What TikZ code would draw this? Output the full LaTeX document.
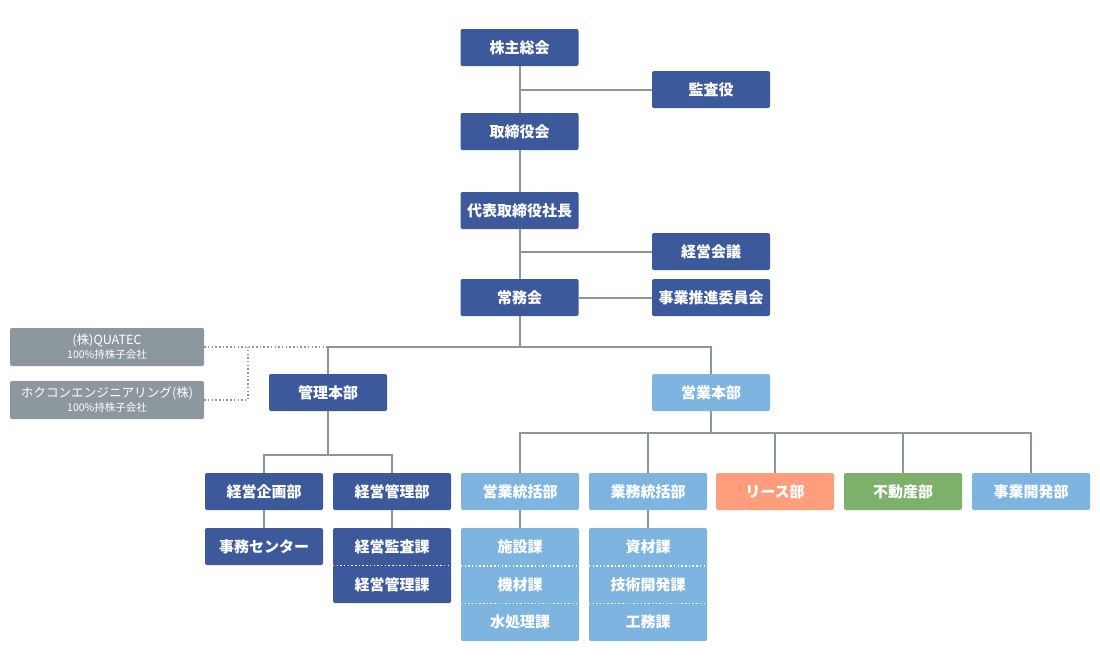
\documentclass[tikz,border=0pt]{standalone}
\usepackage{fontspec}
\newfontfamily\cjk{Noto Sans CJK JP}
\definecolor{dblue}{RGB}{60,90,155}
\definecolor{lblue}{RGB}{126,180,224}
\definecolor{salmon}{RGB}{255,158,125}
\definecolor{lgreen}{RGB}{125,176,106}
\definecolor{gbox}{RGB}{140,152,157}
\definecolor{gline}{RGB}{139,151,156}
\tikzset{
  box/.style={rounded corners=2pt,minimum width=118pt,minimum height=37pt,inner sep=0pt,
    text=white,font=\cjk\bfseries\fontsize{15}{16}\selectfont},
  dbox/.style={box,fill=dblue},
  lbox/.style={box,fill=lblue},
  sub/.style={box,rounded corners=0pt,minimum height=37.5pt},
  subbox/.style={box,minimum width=194pt,minimum height=38pt,fill=gbox,
    align=center,font=\cjk\fontsize{12.6}{15}\selectfont},
  conn/.style={gline,line width=2pt},
  dotline/.style={gline,line width=1.5pt,dash pattern=on 1.5pt off 2.2pt},
  sep/.style={white,line width=1.5pt,dash pattern=on 1.5pt off 2.2pt}
}
\begin{document}
\begin{tikzpicture}[x=1pt,y=-1pt]
\useasboundingbox (0,0) rectangle (1100,670);
% top
\node[dbox] (soukai) at (519.5,47.5) {株主総会};
\node[dbox] (kansa) at (711,89.5) {監査役};
\node[dbox] (torishimari) at (519.5,131.5) {取締役会};
\node[dbox] (shacho) at (519.5,210.5) {代表取締役社長};
\node[dbox] (kaigi) at (711,251.5) {経営会議};
\node[dbox] (joumu) at (519.5,297.5) {常務会};
\node[dbox] (suishin) at (711,297.5) {事業推進委員会};
% subsidiaries
\node[subbox] (quatec) at (107,347) {(株)QUATEC\\[-1pt]{\fontsize{10.5}{12}\selectfont 100\%持株子会社}};
\node[subbox] (hokukon) at (107,400) {ホクコンエンジニアリング(株)\\[-1pt]{\fontsize{10.5}{12}\selectfont 100\%持株子会社}};
% headquarters
\node[dbox] (kanri) at (328,392.5) {管理本部};
\node[lbox] (eigyo) at (711,392.5) {営業本部};
% departments
\node[dbox] (kikaku) at (264,491.5) {経営企画部};
\node[dbox] (keieikanri) at (392,491.5) {経営管理部};
\node[lbox] (tokatsu) at (520,491.5) {営業統括部};
\node[lbox] (gyomu) at (648,491.5) {業務統括部};
\node[box,fill=salmon] (lease) at (775,491.5) {リース部};
\node[box,fill=lgreen] (fudosan) at (903,491.5) {不動産部};
\node[lbox] (jigyo) at (1031,491.5) {事業開発部};
% sections
\node[dbox] (jimu) at (264,546.5) {事務センター};
\fill[dblue,rounded corners=2pt] (333,528) rectangle (451,603);
\node[sub] (kansaka) at (392,546.75) {経営監査課};
\node[sub] (kanrika) at (392,584.25) {経営管理課};
\draw[sep] (kansaka.south west) -- (kansaka.south east);
\fill[lblue,rounded corners=2pt] (461,528) rectangle (579,641);
\node[sub] (shisetsu) at (520,546.8) {施設課};
\node[sub] (kizai) at (520,584.5) {機材課};
\node[sub] (mizu) at (520,622.2) {水処理課};
\draw[sep] (shisetsu.south west) -- (shisetsu.south east);
\draw[sep] (kizai.south west) -- (kizai.south east);
\fill[lblue,rounded corners=2pt] (589,528) rectangle (707,641);
\node[sub] (shizai) at (648,546.8) {資材課};
\node[sub] (gijutsu) at (648,584.5) {技術開発課};
\node[sub] (koumu) at (648,622.2) {工務課};
\draw[sep] (shizai.south west) -- (shizai.south east);
\draw[sep] (gijutsu.south west) -- (gijutsu.south east);
% connectors
\coordinate (jbus) at (519.5,347);
\coordinate (dj) at (248,347);
\coordinate (kbus) at (328,455);
\coordinate (ebus) at (711,433);
\draw[conn] (soukai) -- (torishimari);
\draw[conn] (kansa) -- (kansa -| soukai);
\draw[conn] (torishimari) -- (shacho);
\draw[conn] (shacho) -- (joumu);
\draw[conn] (kaigi) -- (kaigi -| shacho);
\draw[conn] (joumu) -- (suishin);
\draw[conn] (joumu) -- (jbus);
\draw[conn] (kanri.north) |- (jbus) -| (eigyo.north);
\draw[dotline] (quatec) -- (quatec -| kanri);
\draw[dotline] (hokukon) -| (dj);
\draw[conn] (kanri) -- (kbus);
\draw[conn] (kikaku.north) |- (kbus) -| (keieikanri.north);
\draw[conn] (eigyo) -- (ebus);
\draw[conn] (tokatsu.north) |- (ebus) -| (jigyo.north);
\foreach \d in {gyomu,lease,fudosan}
  \draw[conn] (\d.north) -- (\d.north |- ebus);
\draw[conn] (kikaku) -- (jimu);
\draw[conn] (keieikanri) -- (kansaka);
\draw[conn] (tokatsu) -- (shisetsu);
\draw[conn] (gyomu) -- (shizai);
\end{tikzpicture}
\end{document}
